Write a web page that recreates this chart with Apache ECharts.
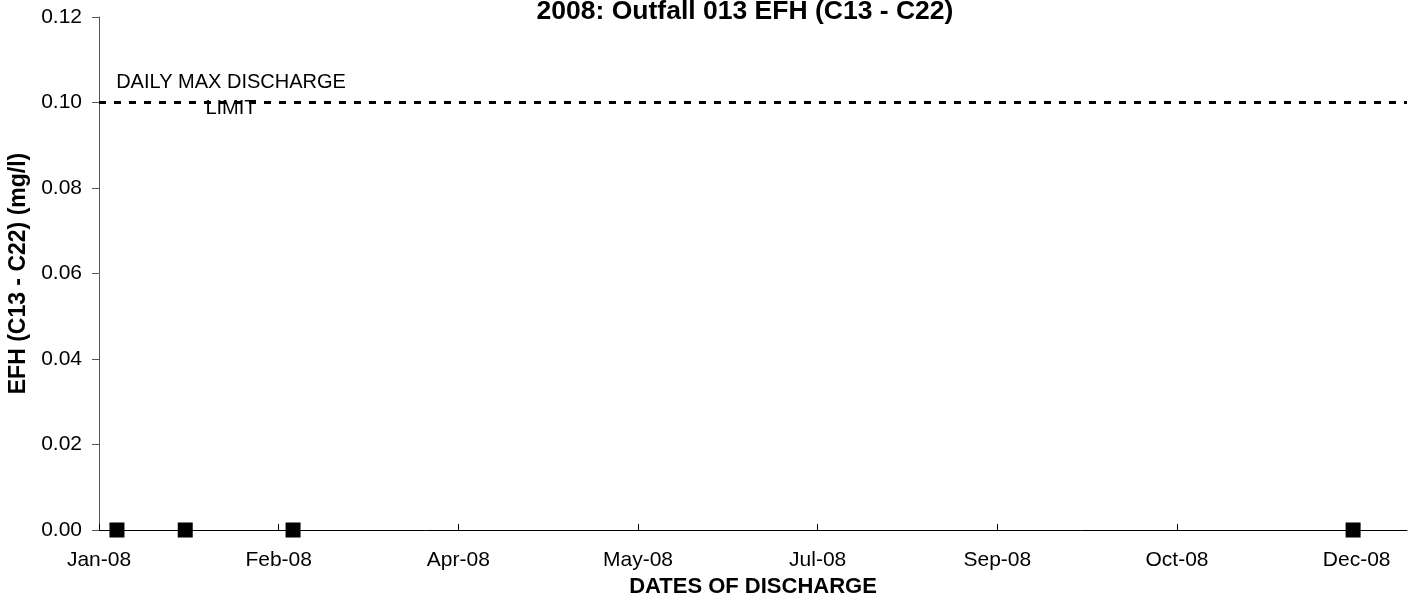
<!DOCTYPE html>
<html>
<head>
<meta charset="utf-8">
<title>2008: Outfall 013 EFH (C13 - C22)</title>
<script src="https://cdn.jsdelivr.net/npm/echarts@6/dist/echarts.min.js"></script>
<style>
  html, body { margin: 0; padding: 0; background: #fff; }
  #chart { width: 1413px; height: 602px; }
</style>
</head>
<body>
<div id="chart"></div>
<script>
var tickDates = ['2008-01-01', '2008-02-20', '2008-04-10', '2008-05-30', '2008-07-19', '2008-09-07', '2008-10-27', '2008-12-16'];
var sampleDates = ['2008-01-06', '2008-01-25', '2008-02-24', '2008-12-15'];
var efhValues = [0, 0, 0, 0];
var limitValue = 0.1;
var monthNames = ['Jan', 'Feb', 'Mar', 'Apr', 'May', 'Jun', 'Jul', 'Aug', 'Sep', 'Oct', 'Nov', 'Dec'];

function toMs(s) {
    var p = s.split('-');
    return Date.UTC(+p[0], +p[1] - 1, +p[2]);
}

var tickMs = tickDates.map(toMs);
var seriesData = sampleDates.map(function (d, i) { return [toMs(d), efhValues[i]]; });

var font = '"Liberation Sans", Arial, sans-serif';
var myChart = echarts.init(document.getElementById('chart'));

var option = {
    animation: false,
    backgroundColor: '#fff',
    grid: { left: 99, right: 6, top: 17, bottom: 72, containLabel: false, outerBoundsMode: 'none' },
    graphic: [
        {
            type: 'text', x: 745, y: 12,
            style: {
                text: '2008: Outfall 013 EFH (C13 - C22)',
                align: 'center', verticalAlign: 'middle',
                fontFamily: font, fontSize: 26.5, fontWeight: 'bold', fill: '#000'
            }
        },
        {
            type: 'text', x: 231, y: 95,
            style: {
                text: 'DAILY MAX DISCHARGE\nLIMIT',
                align: 'center', verticalAlign: 'middle', lineHeight: 26,
                fontFamily: font, fontSize: 20, fill: '#000'
            }
        }
    ],
    xAxis: {
        type: 'value',
        min: toMs('2008-01-01'),
        max: toMs('2008-12-30'),
        name: 'DATES OF DISCHARGE',
        nameLocation: 'middle',
        nameGap: 44,
        nameTextStyle: { fontFamily: font, fontSize: 22, fontWeight: 'bold', color: '#000' },
        axisLine: { onZero: false, lineStyle: { color: '#000', width: 1 } },
        axisTick: { inside: true, length: 6, customValues: tickMs, lineStyle: { color: '#000' } },
        axisLabel: {
            customValues: tickMs,
            margin: 20,
            fontFamily: font, fontSize: 21, color: '#000',
            formatter: function (v) {
                var d = new Date(v);
                return monthNames[d.getUTCMonth()] + '-' + String(d.getUTCFullYear()).slice(2);
            }
        },
        splitLine: { show: false }
    },
    yAxis: {
        type: 'value',
        min: 0,
        max: 0.12,
        interval: 0.02,
        name: 'EFH (C13 - C22) (mg/l)',
        nameLocation: 'middle',
        nameRotate: 90,
        nameGap: 67,
        nameTextStyle: { fontFamily: font, fontSize: 23, fontWeight: 'bold', color: '#000' },
        axisLine: { show: true, lineStyle: { color: '#555', width: 1 } },
        axisTick: { show: true, length: 7, lineStyle: { color: '#555' } },
        axisLabel: {
            margin: 17,
            fontFamily: font, fontSize: 21, color: '#000',
            formatter: function (v) { return v.toFixed(2); }
        },
        splitLine: { show: false }
    },
    series: [{
        type: 'line',
        name: 'EFH',
        data: seriesData,
        symbol: 'rect',
        symbolSize: 15,
        lineStyle: { width: 0, opacity: 0 },
        itemStyle: { color: '#000' },
        markLine: {
            silent: true,
            symbol: 'none',
            label: { show: false },
            lineStyle: { color: '#000', width: 3, type: [7, 8] },
            data: [{ yAxis: limitValue }]
        }
    }]
};

myChart.setOption(option);
</script>
</body>
</html>
